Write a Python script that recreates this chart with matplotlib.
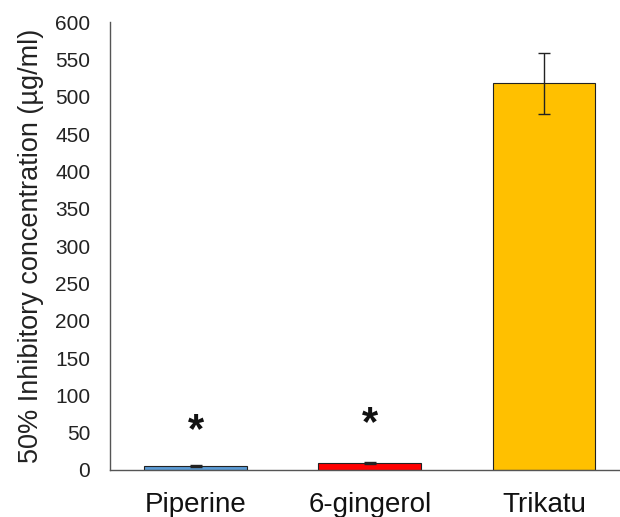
import numpy as np
import matplotlib.pyplot as plt

compounds = ['Piperine', '6-gingerol', 'Trikatu']
ic50 = [5, 9, 518]
err = [1.5, 1.5, 41]
colors = ['#5B9BD5', '#FF0000', '#FFC000']
stars = ['*', '*', '']
star_y = [52, 61, 0]

plt.rcParams['font.family'] = ['Arial', 'Liberation Sans', 'DejaVu Sans']

fig = plt.figure(figsize=(6.2, 5.17), dpi=100)
ax = fig.add_axes([0.177, 0.091, 0.823, 0.866])

x = np.arange(len(compounds))
ax.bar(x, ic50, width=0.59, color=colors, edgecolor='#222222', linewidth=0.8,
       yerr=err, error_kw=dict(ecolor='#222222', elinewidth=1, capsize=4, capthick=1))
for xi, s, sy in zip(x, stars, star_y):
    if s:
        ax.text(xi, sy, s, ha='center', va='center', fontsize=30, fontweight='bold', color='#111111')

ax.set_xlim(-0.494, 2.437)
ax.set_ylim(0, 600)
ax.set_yticks(np.arange(0, 601, 50))
ax.set_xticks(x)
ax.set_xticklabels(compounds, fontsize=20, color='#111111')
ax.tick_params(axis='y', labelsize=15, labelcolor='#222222', length=0, pad=14)
ax.tick_params(axis='x', length=0, pad=16)
ax.set_ylabel('50% Inhibitory concentration (µg/ml)', fontsize=19.5, color='#222222', labelpad=8)
for side in ['top', 'right']:
    ax.spines[side].set_visible(False)
for side in ['left', 'bottom']:
    ax.spines[side].set_color('#555555')
    ax.spines[side].set_linewidth(1)

fig.savefig('out.png', dpi=100)
